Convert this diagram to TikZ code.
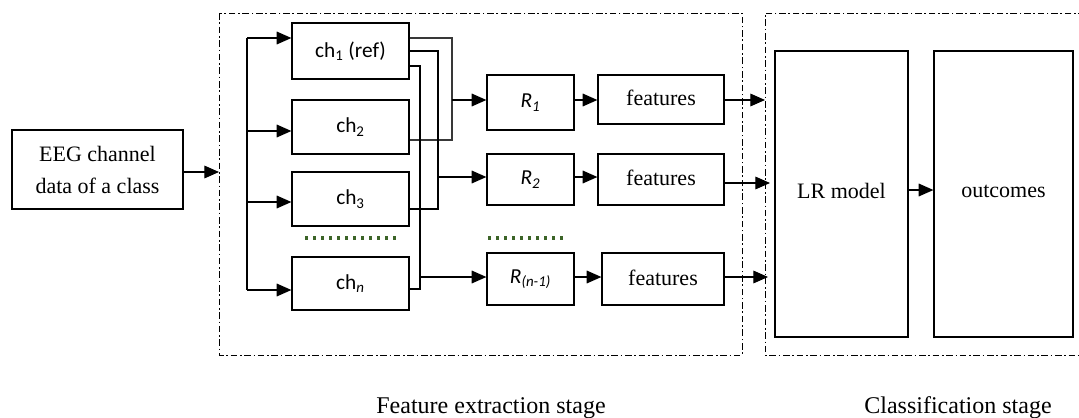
\documentclass[tikz,border=0pt]{standalone}
\usepackage{fontspec}
\setmainfont{Liberation Serif}
\newfontfamily\carl{Carlito}
\usetikzlibrary{arrows.meta}
\definecolor{dotgreen}{RGB}{60,100,40}
\begin{document}
\begin{tikzpicture}[x=0.75pt,y=-0.75pt,
  box/.style={draw, line width=0.9pt, inner sep=0pt},
  arr/.style={line width=0.9pt, -{Triangle[length=11pt,width=9.5pt]}},
  wire/.style={line width=0.9pt},
  gwire/.style={line width=1.5pt, draw=black!78},
  frame/.style={line width=0.75pt, dash pattern=on 5pt off 2pt on 1.2pt off 2pt},
  dots/.style={line width=2.4pt, dash pattern=on 2pt off 4pt, draw=dotgreen},
  serif/.style={font=\fontsize{16.5}{24}\selectfont},
  sans/.style={font=\carl\fontsize{16}{18}\selectfont},
  stage/.style={font=\fontsize{18}{20}\selectfont, inner sep=0pt}]
\useasboundingbox (0,0) rectangle (1079,418);

% frames
\draw[frame] (219,13) rectangle (742,355);
\draw[frame] (1085,13) -- (765,13) -- (765,355) -- (1085,355);

% nodes
\node[box, serif, align=center, minimum width=128.25pt, minimum height=59.25pt] (eeg) at (97.5,169.5) {EEG channel\\data of a class};
\node[box, sans, minimum width=87.75pt, minimum height=42pt] (ch1) at (350.5,51) {ch\textsubscript{1} (ref)};
\node[box, sans, minimum width=87.75pt, minimum height=40.5pt] (ch2) at (350.5,127) {ch\textsubscript{2}};
\node[box, sans, minimum width=87.75pt, minimum height=40.5pt] (ch3) at (350.5,199) {ch\textsubscript{3}};
\node[box, sans, minimum width=87.75pt, minimum height=39.75pt] (chn) at (350.5,283.5) {ch\textsubscript{\itshape n}};
\node[box, sans, minimum width=65.25pt, minimum height=41.25pt] (R1) at (530.5,102.5) {\itshape R\textsubscript{1}};
\node[box, sans, minimum width=65.25pt, minimum height=38.25pt] (R2) at (530.5,179.5) {\itshape R\textsubscript{2}};
\node[box, sans, minimum width=65.25pt, minimum height=39pt] (Rn) at (530.5,279) {\itshape R\textsubscript{(n-1)}};
\node[box, serif, minimum width=94.5pt, minimum height=36.75pt] (f1) at (661,99.5) {\raisebox{2pt}{features}};
\node[box, serif, minimum width=94.5pt, minimum height=38.25pt] (f2) at (661,179.5) {\raisebox{2pt}{features}};
\node[box, serif, minimum width=91.5pt, minimum height=39pt] (f3) at (663,279) {\raisebox{2pt}{features}};
\node[box, serif, minimum width=99.75pt, minimum height=214.5pt] (lr) at (841.5,194) {\raisebox{4pt}{LR model}};
\node[box, serif, minimum width=104.25pt, minimum height=214.5pt] (out) at (1003.5,194) {\raisebox{4pt}{outcomes}};

% stage labels
\node[stage, anchor=base] (lab1) at (491,413) {Feature extraction stage};
\node[stage, anchor=base] (lab2) at (958,413) {Classification stage};

% coordinates
\coordinate (in) at (219,172);
\coordinate (b1) at (247,38);
\coordinate (b2) at (247,131);
\coordinate (b3) at (247,202);
\coordinate (b4) at (247,290);
\coordinate (j1a) at (452,38);
\coordinate (j1b) at (452,140);
\coordinate (j1r) at (452,100);
\coordinate (j2a) at (438,51);
\coordinate (j2b) at (438,209);
\coordinate (j2r) at (438,177);
\coordinate (j3a) at (420,66);
\coordinate (j3b) at (420,289);
\coordinate (j3r) at (420,277);
\coordinate (e1) at (765,100);
\coordinate (e2) at (770,183);
\coordinate (e3) at (768,277);
\coordinate (m) at (920,190);

% input
\draw[arr] (eeg.east |- in) -- (in);

% bus
\draw[wire] (b1) -- (b4);
\draw[arr] (b1) -- (ch1.west |- b1);
\draw[arr] (b2) -- (ch2.west |- b2);
\draw[arr] (b3) -- (ch3.west |- b3);
\draw[arr] (b4) -- (chn.west |- b4);

% channel pairing
\draw[gwire] (ch1.east |- j1a) -- (j1a) -- (j1b) -- (ch2.east |- j1b);
\draw[wire] (ch1.east |- j2a) -- (j2a) -- (j2b) -- (ch3.east |- j2b);
\draw[wire] (ch1.east |- j3a) -- (j3a) -- (j3b) -- (chn.east |- j3b);
\draw[arr] (j1r) -- (R1.west |- j1r);
\draw[arr] (j2r) -- (R2.west |- j2r);
\draw[arr] (j3r) -- (Rn.west |- j3r);

% R to features
\draw[arr] (R1.east |- j1r) -- (f1.west |- j1r);
\draw[arr] (R2.east |- j2r) -- (f2.west |- j2r);
\draw[arr] (Rn.east |- j3r) -- (f3.west |- j3r);

% features to LR
\draw[arr] (f1.east |- e1) -- (e1);
\draw[arr] (f2.east |- e2) -- (e2);
\draw[arr] (f3.east |- e3) -- (e3);

% LR to outcomes
\draw[arr] (lr.east |- m) -- (out.west |- m);

% ellipsis dots
\draw[dots] (305,238) -- (398,238);
\draw[dots] (488,238) -- (567,238);
\end{tikzpicture}
\end{document}
